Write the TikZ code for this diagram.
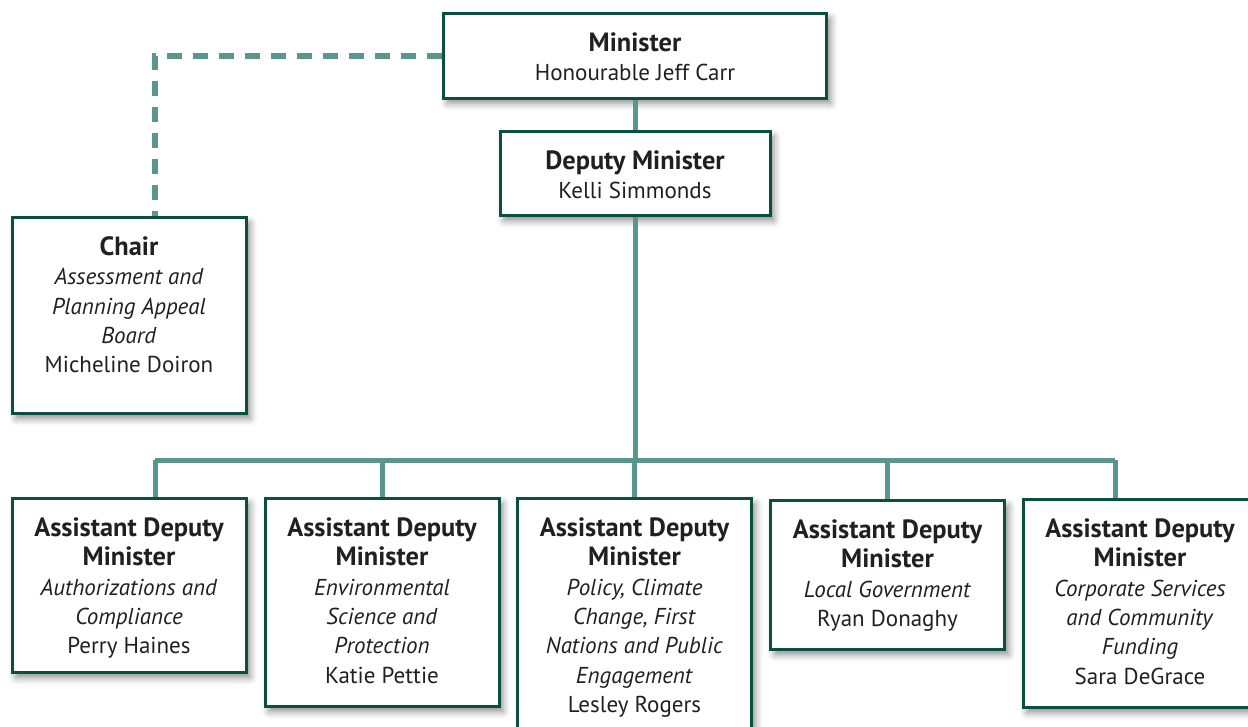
\documentclass[tikz,border=0pt]{standalone}
\usepackage{fontspec}
\setmainfont{PT Sans}
\usetikzlibrary{shadows.blur}
\definecolor{boxgreen}{RGB}{10,80,66}
\definecolor{linkteal}{RGB}{90,150,142}
\definecolor{inkgrey}{RGB}{35,31,32}
% box contents: width, height, lines
\newcommand{\orgtext}[3]{\parbox[c][#2][t]{#1}{\centering\rule{0pt}{19pt}#3}}
\newcommand{\orghead}[1]{{\fontsize{13.2}{14.65}\selectfont\bfseries #1}}
\begin{document}
\begin{tikzpicture}[x=0.5pt,y=-0.5pt,
    orgbox/.style={draw=boxgreen,line width=1.5pt,fill=white,inner sep=0pt,anchor=north,
      text=inkgrey,font=\fontsize{11.5}{14.65}\selectfont,
      blur shadow={shadow xshift=2pt,shadow yshift=-2.5pt,shadow blur radius=3.5pt,shadow opacity=45}},
    link/.style={draw=linkteal,line width=2.5pt},
    dotlink/.style={draw=linkteal,line width=2.75pt,dash pattern=on 7.5pt off 5.5pt}]
            \clip (0,0) rectangle (1248,727);

            \node[orgbox] (min) at (635,12) {\orgtext{191.5pt}{42.5pt}{\orghead{Minister}\\Honourable Jeff Carr}};
            \node[orgbox] (dm) at (635,130) {\orgtext{135pt}{42pt}{\orghead{Deputy Minister}\\Kelli Simmonds}};
            \node[orgbox] (chair) at (129,216) {\orgtext{117pt}{98pt}{\orghead{Chair}\\\textit{Assessment and}\\\textit{Planning Appeal}\\\textit{Board}\\Micheline Doiron}};

            \node[orgbox] (adm1) at (129,497) {\orgtext{117pt}{87pt}{\orghead{Assistant Deputy}\\\orghead{Minister}\\\textit{Authorizations and}\\\textit{Compliance}\\Perry Haines}};
            \node[orgbox] (adm2) at (382,497) {\orgtext{117pt}{104pt}{\orghead{Assistant Deputy}\\\orghead{Minister}\\\textit{Environmental}\\\textit{Science and}\\\textit{Protection}\\Katie Pettie}};
            \node[orgbox] (adm3) at (634.5,497) {\orgtext{117pt}{125pt}{\orghead{Assistant Deputy}\\\orghead{Minister}\\\textit{Policy, Climate}\\\textit{Change, First}\\\textit{Nations and Public}\\\textit{Engagement}\\Lesley Rogers}};
            \node[orgbox] (adm4) at (887.5,499) {\orgtext{117pt}{74.5pt}{\orghead{Assistant Deputy}\\\orghead{Minister}\\\textit{Local Government}\\Ryan Donaghy}};
            \node[orgbox] (adm5) at (1140,498) {\orgtext{117pt}{104pt}{\orghead{Assistant Deputy}\\\orghead{Minister}\\\textit{Corporate Services}\\\textit{and Community}\\\textit{Funding}\\Sara DeGrace}};

            \coordinate (busl) at (155,460);
            \coordinate (busr) at (1115,460);

            \draw[dotlink] (min.west) -| (busl |- chair.north);
            \draw[link] (min.south)--(dm.north);
            \draw[link] (dm.south)--(dm.south |- busl);
            \draw[link] (busl)--(busr);
            \draw[link] (busl)--(busl |- adm1.north);
            \draw[link] (adm2.north |- busl)--(adm2.north);
            \draw[link] (adm3.north |- busl)--(adm3.north);
            \draw[link] (adm4.north |- busl)--(adm4.north);
            \draw[link] (busr)--(busr |- adm5.north);
        \end{tikzpicture}
\end{document}
